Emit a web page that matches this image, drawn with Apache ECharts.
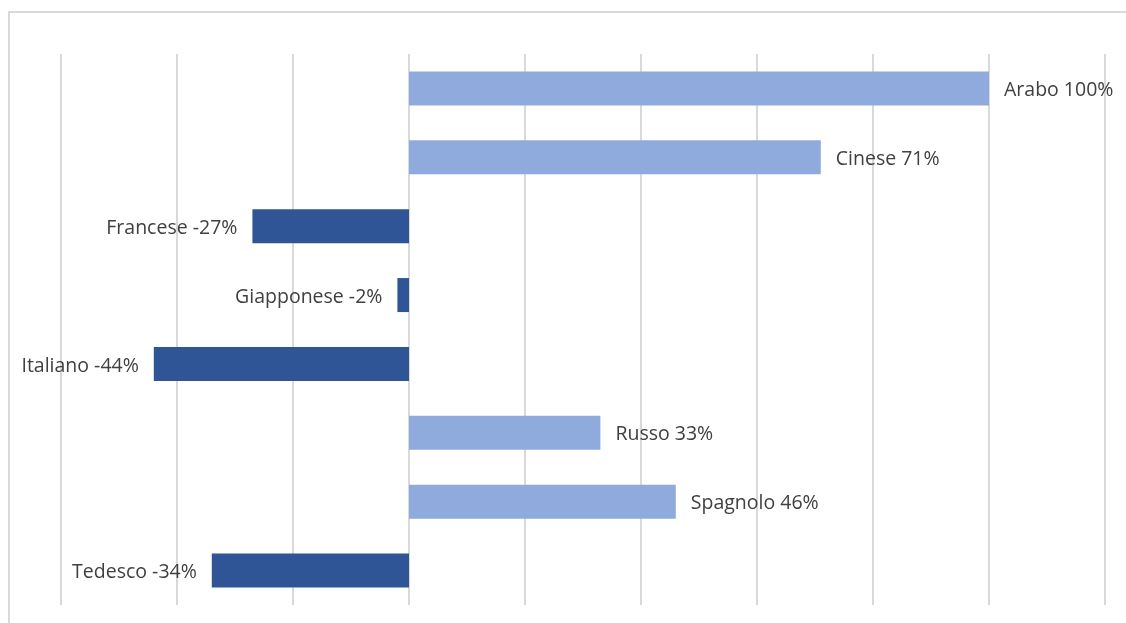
<!DOCTYPE html>
<html>
<head>
<meta charset="utf-8">
<script src="https://cdn.jsdelivr.net/npm/echarts@6/dist/echarts.min.js"></script>
<style>
html,body{margin:0;padding:0;background:#fff;}
#chart{width:1126px;height:623px;}
</style>
</head>
<body>
<div id="chart"></div>
<script>
var categories = ['Arabo', 'Cinese', 'Francese', 'Giapponese', 'Italiano', 'Russo', 'Spagnolo', 'Tedesco'];
var values = [100, 71, -27, -2, -44, 33, 46, -34];
var xTicks = [-60, -40, -20, 0, 20, 40, 60, 80, 100, 120];

var posColor = '#8faadc';
var negColor = '#2f5597';

var chart = echarts.init(document.getElementById('chart'));
var data = values.map(function (v, i) {
  return {
    value: v,
    name: categories[i],
    itemStyle: { color: v >= 0 ? posColor : negColor },
    label: { position: v >= 0 ? 'right' : 'left' }
  };
});
chart.setOption({
  animation: false,
  backgroundColor: '#ffffff',
  graphic: [{
    type: 'rect',
    shape: { x: 9, y: 12, width: 1200, height: 700 },
    style: { fill: 'none', stroke: '#d9d9d9', lineWidth: 2 },
    z: -1
  }],
  grid: { left: 61, right: 21, top: 54, bottom: 18, containLabel: false },
  xAxis: {
    type: 'value',
    min: xTicks[0],
    max: xTicks[xTicks.length - 1],
    interval: 20,
    axisLabel: { show: false },
    axisLine: { show: false },
    axisTick: { show: false },
    splitLine: { show: true, lineStyle: { color: '#d9d9d9', width: 2 } }
  },
  yAxis: {
    type: 'category',
    data: categories,
    inverse: true,
    axisLabel: { show: false },
    axisLine: { show: false },
    axisTick: { show: false },
    splitLine: { show: false }
  },
  series: [{
    type: 'bar',
    data: data,
    barWidth: 34,
    label: {
      show: true,
      distance: 15,
      offset: [0, 2],
      fontFamily: 'Open Sans',
      fontSize: 19.5,
      color: '#404040',
      formatter: function (p) { return p.name + ' ' + p.value + '%'; }
    }
  }]
});
</script>
</body>
</html>
